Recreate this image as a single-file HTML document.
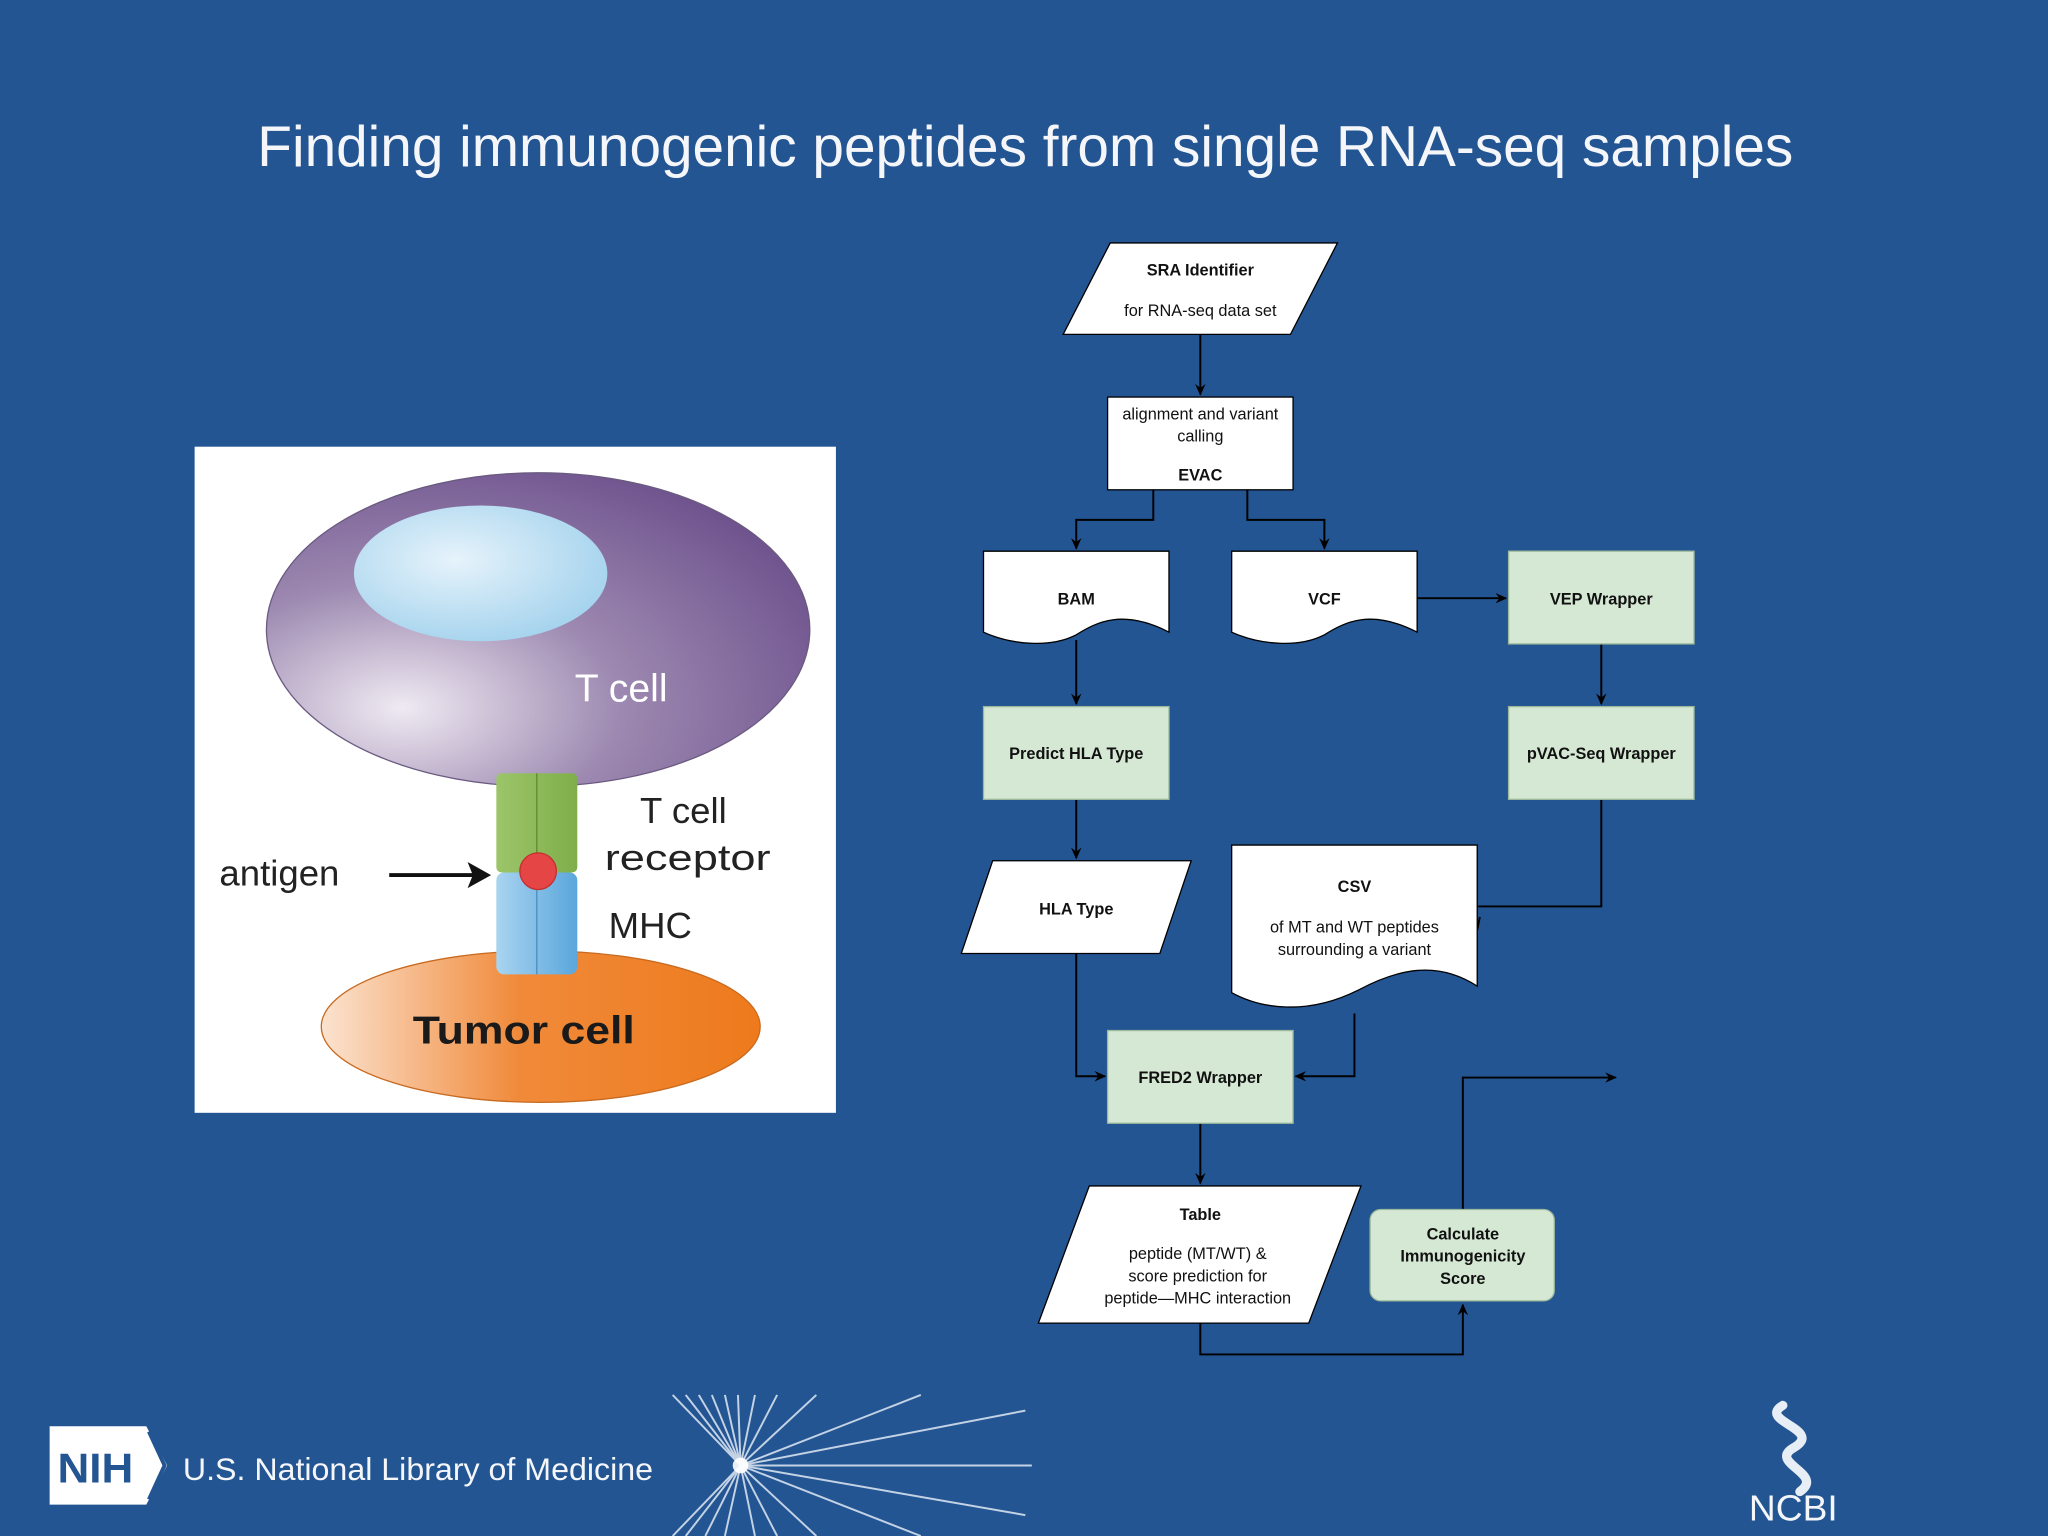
<!DOCTYPE html>
<html><head><meta charset="utf-8"><style>
html,body{margin:0;padding:0;background:#235592;}
svg{display:block}
text{font-family:"Liberation Sans",Arial,sans-serif;}
</style></head><body>
<svg width="2048" height="1536" viewBox="0 0 1568 1176" xmlns="http://www.w3.org/2000/svg">
<defs>
<marker id="a" markerWidth="10" markerHeight="10" refX="8" refY="5" orient="auto" markerUnits="userSpaceOnUse">
<path d="M0,1 L9,5 L0,9 L3,5 z" fill="#000"/></marker>
<radialGradient id="tc" cx="0.25" cy="0.75" r="0.9"><stop offset="0" stop-color="#efeaf2"/><stop offset="0.45" stop-color="#9c88b0"/><stop offset="1" stop-color="#6a4d8a"/></radialGradient>
<radialGradient id="nu" cx="0.4" cy="0.4" r="0.7"><stop offset="0" stop-color="#e6f3fb"/><stop offset="1" stop-color="#9fd0ec"/></radialGradient>
<linearGradient id="tu" x1="0" y1="0" x2="1" y2="0"><stop offset="0" stop-color="#fbe3d0"/><stop offset="0.45" stop-color="#f08a3a"/><stop offset="1" stop-color="#ee7a1c"/></linearGradient>
<linearGradient id="gr" x1="0" x2="1"><stop offset="0" stop-color="#9cc56a"/><stop offset="1" stop-color="#7fae4a"/></linearGradient>
<linearGradient id="bl" x1="0" x2="1"><stop offset="0" stop-color="#a9d4f0"/><stop offset="1" stop-color="#5aa6dc"/></linearGradient>
</defs>
<rect width="1568" height="1176" fill="#235592"/>
<text x="785" y="127" text-anchor="middle" font-size="44" fill="#f4f6fa" textLength="1176" lengthAdjust="spacingAndGlyphs">Finding immunogenic peptides from single RNA-seq samples</text>

<rect x="149" y="342" width="491" height="510" fill="#fff"/>
<ellipse cx="412" cy="482" rx="208" ry="120" fill="url(#tc)" stroke="#6a5a80" stroke-width="1"/>
<ellipse cx="368" cy="439" rx="97" ry="52" fill="url(#nu)"/>
<text x="440" y="537" font-size="30" fill="#fff">T cell</text>
<ellipse cx="414" cy="786" rx="168" ry="58" fill="url(#tu)" stroke="#c86a20" stroke-width="1"/>
<text x="316" y="799" font-size="30" font-weight="bold" fill="#1a1a1a" textLength="170" lengthAdjust="spacingAndGlyphs">Tumor cell</text>
<rect x="380" y="668" width="62" height="78" rx="6" fill="url(#bl)"/>
<line x1="411" y1="668" x2="411" y2="746" stroke="#4a8cc0"/>
<rect x="380" y="592" width="62" height="76" rx="4" fill="url(#gr)"/>
<line x1="411" y1="592" x2="411" y2="668" stroke="#5e8a30"/>
<circle cx="412" cy="667" r="14" fill="#e54545" stroke="#c43030"/>
<text x="168" y="678" font-size="28" fill="#222">antigen</text>
<line x1="298" y1="670" x2="366" y2="670" stroke="#111" stroke-width="3"/>
<path d="M376,670 L358,660 L362,670 L358,680 z" fill="#111"/>
<text x="490" y="630" font-size="28" fill="#222">T cell</text>
<text x="463" y="666" font-size="28" fill="#222" textLength="127" lengthAdjust="spacingAndGlyphs">receptor</text>
<text x="466" y="718" font-size="28" fill="#222">MHC</text>

<g stroke="#000" stroke-width="1.5" fill="none">
<path d="M919,256 V302" marker-end="url(#a)"/>
<path d="M883,375 V398 H824 V420" marker-end="url(#a)"/>
<path d="M955,375 V398 H1014 V420" marker-end="url(#a)"/>
<path d="M1085,458 H1153" marker-end="url(#a)"/>
<path d="M1226,493 V539" marker-end="url(#a)"/>
<path d="M824,490 V539" marker-end="url(#a)"/>
<path d="M824,612 V657" marker-end="url(#a)"/>
<path d="M1226,612 V694 H1131"/>
<path d="M1133,702 L1131,712" />
<path d="M824,730 V824 H846" marker-end="url(#a)"/>
<path d="M1037,776 V824 H992" marker-end="url(#a)"/>
<path d="M919,860 V906" marker-end="url(#a)"/>
<path d="M919,1013 V1037 H1120 V999" marker-end="url(#a)"/>
<path d="M1120,926 V825 H1237" marker-end="url(#a)"/>
</g>
<g stroke="#000" stroke-width="1">
<polygon points="850,186 1024,186 988,256 814,256" fill="#fff"/>
<rect x="848" y="304" width="142" height="71" fill="#fff"/>
<path d="M753,422 H895 V484 C860,466 840,476 824,486 C805,496 775,494 753,484 Z" fill="#fff"/>
<path d="M943,422 H1085 V484 C1050,466 1030,476 1014,486 C995,496 965,494 943,484 Z" fill="#fff"/>
<rect x="1155" y="422" width="142" height="71" fill="#d5e8d4" stroke="#9cb89a"/>
<rect x="1155" y="541" width="142" height="71" fill="#d5e8d4" stroke="#9cb89a"/>
<rect x="753" y="541" width="142" height="71" fill="#d5e8d4" stroke="#9cb89a"/>
<polygon points="760,659 912,659 888,730 736,730" fill="#fff"/>
<path d="M943,647 H1131 V755 C1100,735 1070,742 1040,758 C1000,778 965,772 943,760 Z" fill="#fff"/>
<rect x="848" y="789" width="142" height="71" fill="#d5e8d4" stroke="#9cb89a"/>
<polygon points="834,908 1042,908 1002,1013 795,1013" fill="#fff"/>
<rect x="1049" y="926" width="141" height="70" rx="8" fill="#d5e8d4" stroke="#9cb89a"/>
</g>
<g font-size="12.5" fill="#111" text-anchor="middle" font-family="Liberation Sans Narrow, Liberation Sans, sans-serif">
<text x="919" y="211" font-weight="bold">SRA Identifier</text>
<text x="919" y="242">for RNA-seq data set</text>
<text x="919" y="321">alignment and variant</text>
<text x="919" y="338">calling</text>
<text x="919" y="368" font-weight="bold">EVAC</text>
<text x="824" y="463" font-weight="bold">BAM</text>
<text x="1014" y="463" font-weight="bold">VCF</text>
<text x="1226" y="463" font-weight="bold">VEP Wrapper</text>
<text x="1226" y="581" font-weight="bold">pVAC-Seq Wrapper</text>
<text x="824" y="581" font-weight="bold">Predict HLA Type</text>
<text x="824" y="700" font-weight="bold">HLA Type</text>
<text x="1037" y="683" font-weight="bold">CSV</text>
<text x="1037" y="714">of MT and WT peptides</text>
<text x="1037" y="731">surrounding a variant</text>
<text x="919" y="829" font-weight="bold">FRED2 Wrapper</text>
<text x="919" y="934" font-weight="bold">Table</text>
<text x="917" y="964">peptide (MT/WT) &amp;</text>
<text x="917" y="981">score prediction for</text>
<text x="917" y="998">peptide—MHC interaction</text>
<text x="1120" y="949" font-weight="bold">Calculate</text>
<text x="1120" y="966" font-weight="bold">Immunogenicity</text>
<text x="1120" y="983" font-weight="bold">Score</text>
</g>

<path d="M38,1092 H112 L128,1122 L112,1152 H38 Z" fill="#fff"/>
<path d="M114,1096 L126,1122 L114,1148" stroke="#235592" stroke-width="3" fill="none"/>
<text x="44" y="1135" font-size="32" font-weight="bold" fill="#235592" textLength="58" lengthAdjust="spacingAndGlyphs">NIH</text>
<text x="140" y="1133" font-size="24" fill="#f4f6fa" textLength="360" lengthAdjust="spacingAndGlyphs">U.S. National Library of Medicine</text>
<g stroke="#dfe8f4" stroke-width="1.5" opacity="0.85">
<line x1="567" y1="1122" x2="515" y2="1068"/><line x1="567" y1="1122" x2="525" y2="1068"/><line x1="567" y1="1122" x2="535" y2="1068"/><line x1="567" y1="1122" x2="545" y2="1068"/><line x1="567" y1="1122" x2="555" y2="1068"/><line x1="567" y1="1122" x2="565" y2="1068"/><line x1="567" y1="1122" x2="578" y2="1068"/><line x1="567" y1="1122" x2="595" y2="1068"/><line x1="567" y1="1122" x2="625" y2="1068"/><line x1="567" y1="1122" x2="705" y2="1068"/><line x1="567" y1="1122" x2="785" y2="1080"/><line x1="567" y1="1122" x2="790" y2="1122"/><line x1="567" y1="1122" x2="785" y2="1160"/><line x1="567" y1="1122" x2="705" y2="1176"/><line x1="567" y1="1122" x2="625" y2="1176"/><line x1="567" y1="1122" x2="595" y2="1176"/><line x1="567" y1="1122" x2="578" y2="1176"/><line x1="567" y1="1122" x2="555" y2="1176"/><line x1="567" y1="1122" x2="540" y2="1176"/><line x1="567" y1="1122" x2="525" y2="1176"/><line x1="567" y1="1122" x2="515" y2="1176"/>
</g>
<circle cx="567" cy="1122" r="6" fill="#fff" opacity="0.9"/>
<path d="M1365,1076 C1345,1088 1396,1094 1374,1108 C1352,1120 1398,1128 1378,1142" stroke="#e8eef6" stroke-width="7" fill="none" stroke-linecap="round"/>
<text x="1373" y="1164" font-family="Liberation Serif,serif" font-size="28" fill="#f4f6fa" text-anchor="middle" textLength="68" lengthAdjust="spacingAndGlyphs">NCBI</text>
</svg>
</body></html>
